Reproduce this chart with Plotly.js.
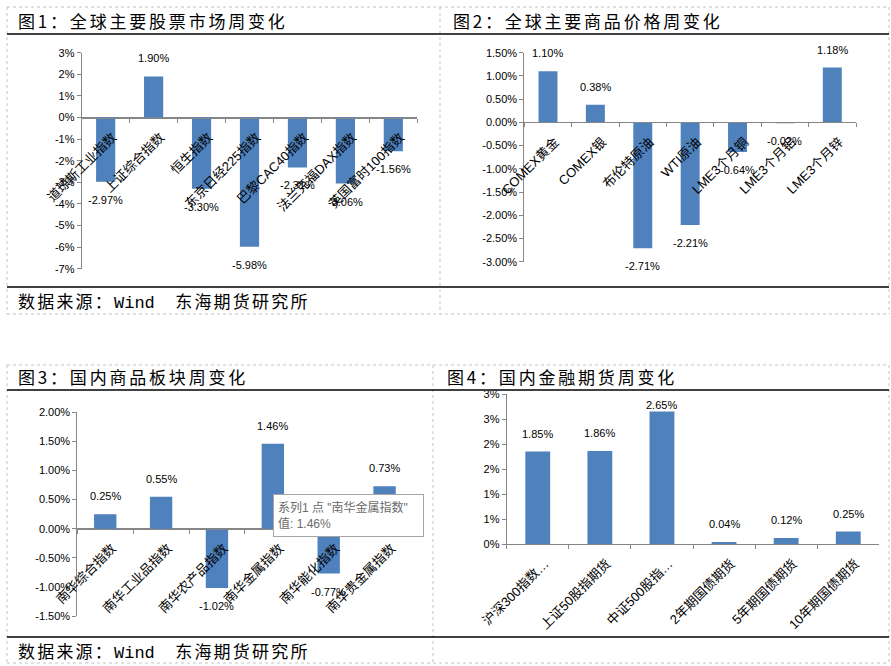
<!DOCTYPE html>
<html><head><meta charset="utf-8">
<script src="https://cdn.plot.ly/plotly-3.0.1.min.js"></script>
<style>html,body{margin:0;padding:0;background:#fff}</style>
</head><body><div id="chart" style="width:891px;height:666px"></div>
<script>
// ---- data ----
const stockCats = ["道琼斯工业指数","上证综合指数","恒生指数","东京日经225指数","巴黎CAC40指数","法兰克福DAX指数","英国富时100指数"];
const stockVals = [-2.97, 1.90, -3.30, -5.98, -2.31, -3.06, -1.56];
const stockTicks = [3,2,1,0,-1,-2,-3,-4,-5,-6,-7];
const stockTickText = ["3%","2%","1%","0%","-1%","-2%","-3%","-4%","-5%","-6%","-7%"];

const cmdCats = ["COMEX黄金","COMEX银","布伦特原油","WTI原油","LME3个月铜","LME3个月铝","LME3个月锌"];
const cmdVals = [1.10, 0.38, -2.71, -2.21, -0.64, -0.02, 1.18];
const cmdTicks = [1.5,1,0.5,0,-0.5,-1,-1.5,-2,-2.5,-3];
const cmdTickText = ["1.50%","1.00%","0.50%","0.00%","-0.50%","-1.00%","-1.50%","-2.00%","-2.50%","-3.00%"];

const secCats = ["南华综合指数","南华工业品指数","南华农产品指数","南华金属指数","南华能化指数","南华贵金属指数"];
const secVals = [0.25, 0.55, -1.02, 1.46, -0.77, 0.73];
const secTicks = [2,1.5,1,0.5,0,-0.5,-1,-1.5];
const secTickText = ["2.00%","1.50%","1.00%","0.50%","0.00%","-0.50%","-1.00%","-1.50%"];

const finCats = ["沪深300指数…","上证50股指期货","中证500股指…","2年期国债期货","5年期国债期货","10年期国债期货"];
const finVals = [1.85, 1.86, 2.65, 0.04, 0.12, 0.25];
const finTicks = [0,0.5,1,1.5,2,2.5,3];
const finTickText = ["0%","1%","1%","2%","2%","3%","3%"];

// ---- styling ----
const W = 891, H = 666;
const px = x => x / W, py = y => 1 - y / H;
const NUMF = "Liberation Sans, Noto Sans CJK SC, sans-serif";
const CJKF = "Noto Sans CJK SC, sans-serif";
const BAR = '#4F81BD', AXIS = '#868686';

const data = [], annotations = [], shapes = [];
const layout = {
  width: W, height: H, margin: {l:0, r:0, t:0, b:0},
  paper_bgcolor: '#fff', plot_bgcolor: 'rgba(0,0,0,0)',
  showlegend: false, hovermode: false
};

function panel(idx, cats, vals, ticks, tickText, range, xPx, yPx, clampTop) {
  const s = idx === 1 ? '' : String(idx);
  const dx = [px(xPx[0]), px(xPx[1])];
  const dy = [py(yPx[1]), py(yPx[0])];
  data.push({
    type: 'bar', x: cats, y: vals, xaxis: 'x' + s, yaxis: 'y' + s,
    width: 0.4, marker: {color: BAR}
  });
  const zeroPos = dy[0] + (0 - range[0]) / (range[1] - range[0]) * (dy[1] - dy[0]);
  layout['xaxis' + s] = {
    domain: dx, type: 'category',
    anchor: range[0] < 0 ? 'free' : 'y' + s,
    position: range[0] < 0 ? zeroPos : undefined,
    showline: true, linecolor: AXIS, linewidth: 1,
    ticks: 'outside', tickson: 'boundaries', ticklen: 4, tickcolor: AXIS,
    tickangle: -45, tickfont: {family: NUMF, size: 13, color: '#000'},
    ticklabelshift: 7, ticklabelstandoff: 6,
    showgrid: false, zeroline: false, fixedrange: true
  };
  layout['yaxis' + s] = {
    domain: dy, range: range, anchor: 'x' + s,
    tickvals: ticks, ticktext: tickText,
    showline: true, linecolor: AXIS, linewidth: 1,
    ticks: 'outside', ticklen: 4, tickcolor: AXIS,
    tickfont: {family: NUMF, size: 11, color: '#000'},
    showgrid: false, zeroline: true, zerolinecolor: AXIS, zerolinewidth: 1, fixedrange: true
  };
  const ppu = (yPx[1] - yPx[0]) / (range[1] - range[0]);
  vals.forEach((v, j) => {
    let shift = 18;
    if (clampTop && v >= 0) shift = Math.min(18, (range[1] - v) * ppu - 11);
    annotations.push({
      xref: 'x' + s, yref: 'y' + s, x: cats[j], y: v,
      yshift: v >= 0 ? shift : -shift, showarrow: false,
      text: v.toFixed(2) + '%', xanchor: 'center', yanchor: 'middle',
      font: {family: NUMF, size: 11, color: '#000'}
    });
  });
}

panel(1, stockCats, stockVals, stockTicks, stockTickText, [-7, 3], [81.7, 417.3], [52.7, 268.7], false);
panel(2, cmdCats, cmdVals, cmdTicks, cmdTickText, [-3, 1.5], [524.3, 856], [52.7, 261.7], false);
panel(3, secCats, secVals, secTicks, secTickText, [-1.5, 2], [77.3, 412.5], [412.3, 616], false);
panel(4, finCats, finVals, finTicks, finTickText, [0, 3], [506.7, 879.3], [394, 544], true);

// titles
function txt(t, x, y, size, color, fam) {
  annotations.push({xref:'paper', yref:'paper', x: px(x), y: py(y), xanchor:'left', yanchor:'middle',
    showarrow:false, text:t, font:{family: fam || CJKF, size: size, color: color || '#000'}});
}
const T = s => '<span style="letter-spacing:2.8px">' + s + '</span>';
txt(T('图1：全球主要股票市场周变化'), 16, 20.5, 17);
txt(T('图2：全球主要商品价格周变化'), 451, 20.5, 17);
txt(T('图3：国内商品板块周变化'), 16, 376.5, 17);
txt(T('图4：国内金融期货周变化'), 445, 376.5, 17);
const SRC = '<span style="letter-spacing:2.2px">数据来源：</span><span style="font-family:Liberation Mono">Wind  </span><span style="letter-spacing:2.2px">东海期货研究所</span>';
txt(SRC, 16, 300, 17);
txt(SRC, 16, 650, 17);

// tooltip box
annotations.push({xref:'paper', yref:'paper', x: px(273), y: py(494), xanchor:'left', yanchor:'top',
  showarrow:false, align:'left', width: 141, height: 33, borderpad: 4,
  bgcolor:'#fff', bordercolor:'#a6a6a6', borderwidth:1,
  text:'系列1 点 "南华金属指数"<br>值: 1.46%', font:{family: NUMF, size: 12, color:'#6a6a6a'}});

// frames
shapes.push({type:'rect', layer:'above', xref:'paper', yref:'paper', x0:px(441), x1:px(888), y0:py(366), y1:py(391), fillcolor:'#fff', line:{width:0}});
const dot = {color:'#c4c4c4', width:1, dash:'dot'};
const L = (x0,y0,x1,y1,line) => shapes.push({type:'line', layer:'above', xref:'paper', yref:'paper', x0:px(x0), y0:py(y0), x1:px(x1), y1:py(y1), line});
L(7,7,889,7,dot); L(7,314,889,314,dot); L(7,7,7,314,dot); L(889,7,889,314,dot); L(440,7,440,314,dot);
L(7,365,889,365,dot); L(7,663,889,663,dot); L(7,365,7,663,dot); L(889,365,889,663,dot); L(433,365,433,663,dot);
const blk = {color:'#000', width:1.5};
L(7,34,889,34,blk); L(7,287,889,287,blk); L(7,390,889,390,blk); L(7,637,889,637,blk);

layout.annotations = annotations;
layout.shapes = shapes;
Plotly.newPlot('chart', data, layout, {staticPlot: true, displayModeBar: false});
</script></body></html>
